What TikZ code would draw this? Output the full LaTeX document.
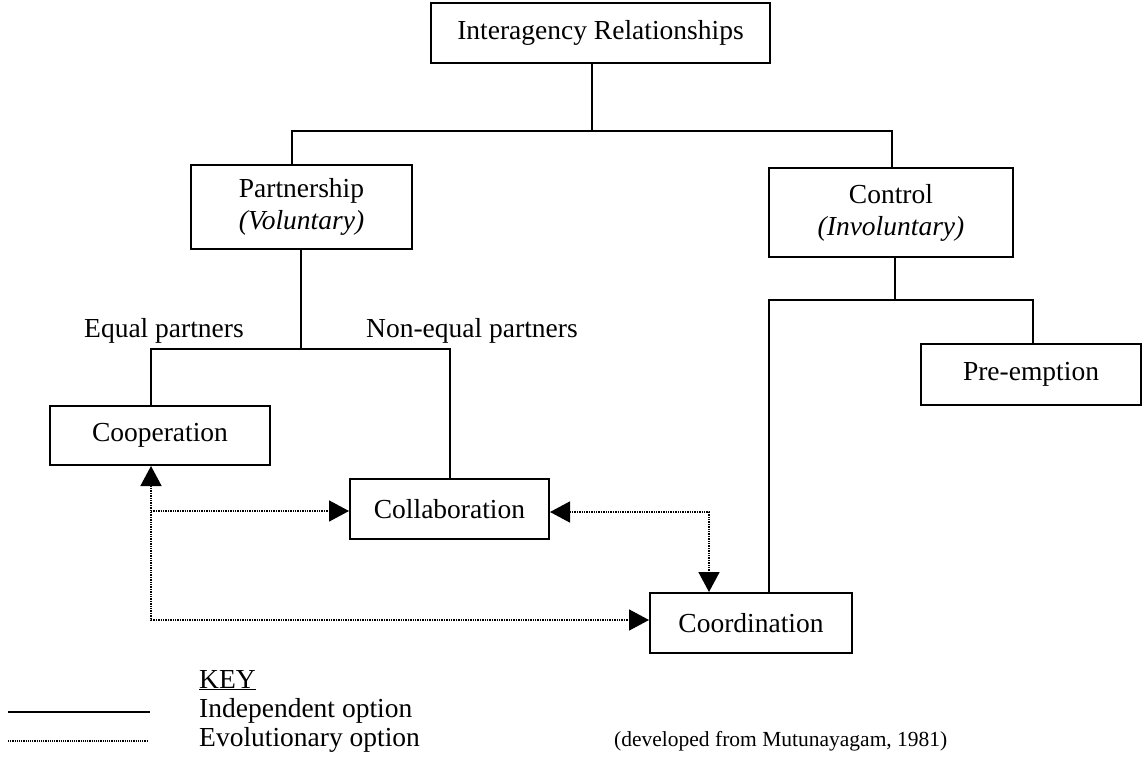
\documentclass[tikz,border=0pt]{standalone}
\usepackage{fontspec}
\setmainfont{Liberation Serif}
\usetikzlibrary{arrows.meta}

\tikzset{
  box/.style={draw, line width=2pt, rectangle, inner sep=0pt, align=center,
    font=\fontsize{27.5}{32}\selectfont},
  lbl/.style={inner sep=0pt, anchor=base west, font=\fontsize{27.5}{32}\selectfont},
  indep/.style={line width=1.6pt},
  evo/.style={line width=1.6pt, dash pattern=on 1.4pt off 1.0pt},
  tip/.tip={Triangle[length=20pt,width=21pt]}
}

\begin{document}
\begin{tikzpicture}[x=1pt,y=-1pt]
\useasboundingbox (0,0) rectangle (1143,760);

% boxes
\node[box, minimum width=339pt, minimum height=60pt] (top) at (600.5,33) {Interagency Relationships};
\node[box, minimum width=221pt, minimum height=84pt] (partn) at (301.5,207) {Partnership\\\textit{(Voluntary)}};
\node[box, minimum width=244pt, minimum height=89pt] (ctrl) at (891,212.5) {Control\\\textit{(Involuntary)}};
\node[box, minimum width=220pt, minimum height=59pt] (coop) at (160,435.5) {Cooperation};
\node[box, minimum width=199pt, minimum height=60pt] (collab) at (449.5,509) {Collaboration};
\node[box, minimum width=220pt, minimum height=61pt] (preempt) at (1031,374.5) {Pre-emption};
\node[box, minimum width=202pt, minimum height=60pt] (coord) at (751,623) {Coordination};

% branch labels
\node[lbl] (eqlbl) at (84,337) {Equal partners};
\node[lbl] (neqlbl) at (366,337) {Non-equal partners};

% junction points of the tree
\coordinate (jtop) at (592,131);
\coordinate (xpa) at (292,0);
\coordinate (xct) at (892,0);
\coordinate (jpa) at (301,349);
\coordinate (xco) at (151,0);
\coordinate (xcl) at (450,0);
\coordinate (jct) at (895,300);
\coordinate (xcd) at (769,0);
\coordinate (xpe) at (1033,0);

% independent options (solid)
\draw[indep] (top.south -| jtop) -- (jtop);
\draw[indep] (partn.north -| xpa) |- (jtop) -| (ctrl.north -| xct);
\draw[indep] (partn.south -| jpa) -- (jpa);
\draw[indep] (coop.north -| xco) |- (jpa) -| (collab.north -| xcl);
\draw[indep] (ctrl.south -| jct) -- (jct);
\draw[indep] (coord.north -| xcd) |- (jct) -| (preempt.north -| xpe);

% evolutionary options (dotted)
\coordinate (ebl) at (151,620);
\coordinate (ebr) at (151,511);
\coordinate (etr) at (709,512);
\draw[evo, {tip}-{tip}] (coop.south -| ebl) -- (ebl) -- (coord.west |- ebl);
\draw[evo, -{tip}] (ebr) -- (collab.west |- ebr);
\draw[evo, {tip}-{tip}] (collab.east |- etr) -- (etr) -- (coord.north -| etr);

% key
\coordinate (ks1) at (8,712);
\coordinate (ks2) at (150,712);
\coordinate (kd1) at (8,741);
\coordinate (kd2) at (147,741);
\draw[line width=2.6pt] (ks1) -- (ks2);
\draw[line width=1.2pt, dash pattern=on 1.1pt off 1.1pt] (kd1) -- (kd2);
\node[lbl] (key) at (199,688) {\underline{KEY}};
\node[lbl] (kind) at (199,717) {Independent option};
\node[lbl] (kevo) at (199,746) {Evolutionary option};
\node[lbl, font=\fontsize{21.5}{26}\selectfont] (src) at (614,746) {(developed from Mutunayagam, 1981)};
\end{tikzpicture}
\end{document}
